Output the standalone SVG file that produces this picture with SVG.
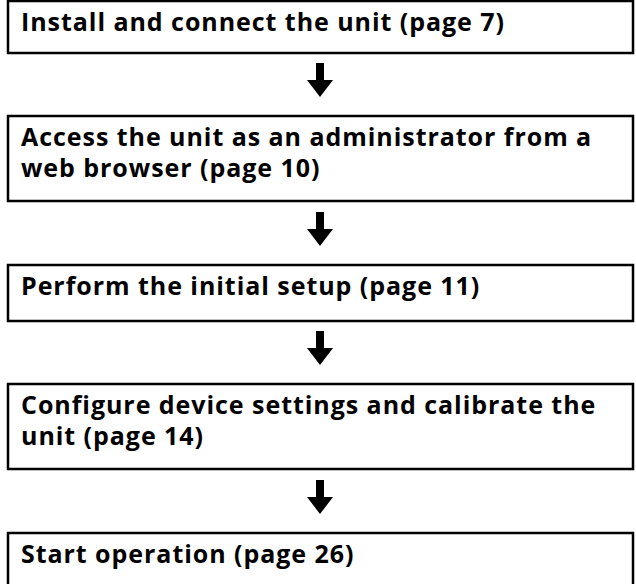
<svg xmlns="http://www.w3.org/2000/svg" width="636" height="584" viewBox="0 0 636 584">
<style>
.box{fill:#fff;stroke:#000;stroke-width:2.5}
.t{font-family:"Open Sans","Noto Sans","Liberation Sans",sans-serif;font-weight:bold;font-size:25px;letter-spacing:0.95px;fill:#000}
.arr{fill:#000}
</style>
<defs>
<path id="arrow" d="M-4,0 H4 V17 H13 L0,34 L-13,17 H-4 Z"/>
</defs>
<rect width="636" height="584" fill="#fff"/>
<g id="step1"><rect class="box" x="8" y="1" width="625" height="52"/><text class="t" x="21" y="31">Install and connect the unit (page 7)</text></g>
<g id="step2"><rect class="box" x="8" y="116" width="625" height="85"/><text class="t" x="21" y="146">Access the unit as an administrator from a</text><text class="t" x="21" y="177">web browser (page 10)</text></g>
<g id="step3"><rect class="box" x="8" y="265" width="625" height="56"/><text class="t" x="21" y="295">Perform the initial setup (page 11)</text></g>
<g id="step4"><rect class="box" x="8" y="384" width="625" height="85"/><text class="t" x="21" y="414">Configure device settings and calibrate the</text><text class="t" x="21" y="445">unit (page 14)</text></g>
<g id="step5"><rect class="box" x="8" y="533" width="625" height="60"/><text class="t" x="21" y="563">Start operation (page 26)</text></g>
<g id="connectors">
<use class="arr" href="#arrow" x="320" y="63"/>
<use class="arr" href="#arrow" x="320" y="212"/>
<use class="arr" href="#arrow" x="320" y="331"/>
<use class="arr" href="#arrow" x="320" y="480"/>
</g>
</svg>
